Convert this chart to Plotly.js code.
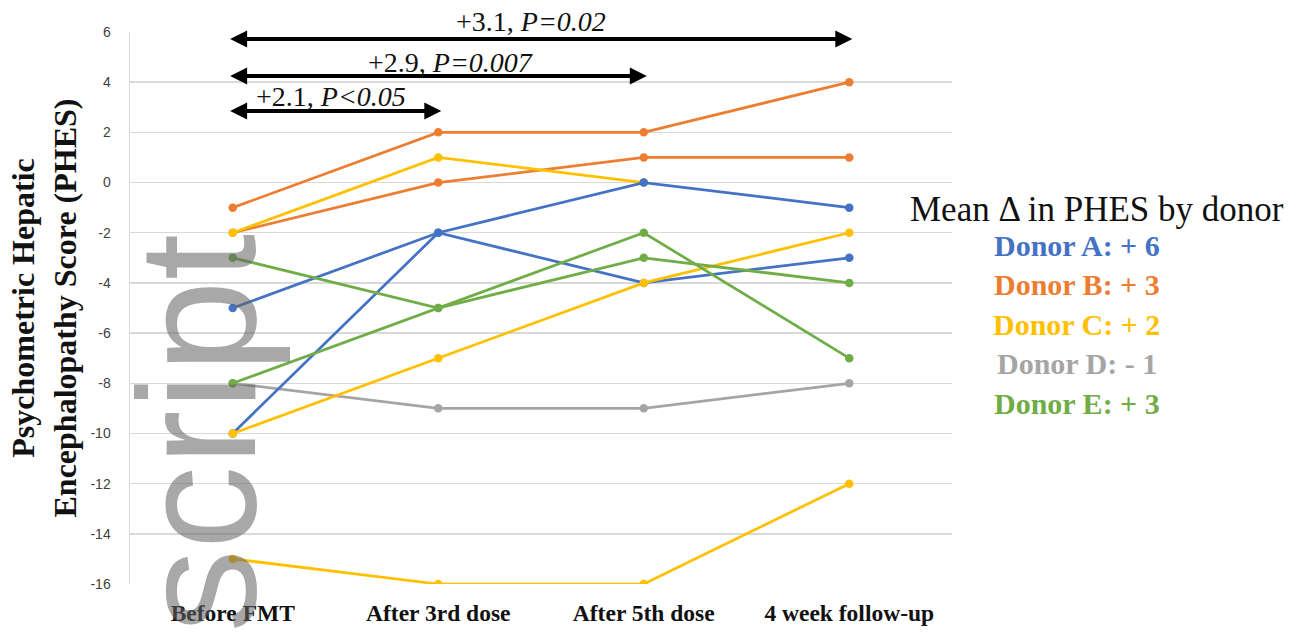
<!DOCTYPE html>
<html>
<head>
<meta charset="utf-8">
<script src="https://cdn.plot.ly/plotly-3.0.1.min.js"></script>
<style>
  html, body { margin: 0; padding: 0; background: #ffffff; }
  #chart { width: 1300px; height: 633px; }
</style>
</head>
<body>
<div id="chart"></div>
<script>
// Time points of the study
const stages = ['Before FMT', 'After 3rd dose', 'After 5th dose', '4 week follow-up'];

// Y axis ticks (written with a plain hyphen)
const yTickVals = [-16, -14, -12, -10, -8, -6, -4, -2, 0, 2, 4, 6];
const yTickText = ['-16', '-14', '-12', '-10', '-8', '-6', '-4', '-2', '0', '2', '4', '6'];

// PHES per patient, grouped by stool donor
const donorA_p1 = [-5, -2, 0, -1];
const donorA_p2 = [-10, -2, -4, -3];
const donorB_p1 = [-1, 2, 2, 4];
const donorB_p2 = [-2, 0, 1, 1];
const donorC_p1 = [-2, 1, 0, null];
const donorC_p2 = [-10, -7, -4, -2];
const donorC_p3 = [-15, -16, -16, -12];
const donorD_p1 = [-8, -9, -9, -8];
const donorE_p1 = [-3, -5, -3, -4];
const donorE_p2 = [-8, -5, -2, -7];

// Mean change by donor
const donorNames = ['Donor A', 'Donor B', 'Donor C', 'Donor D', 'Donor E'];
const donorMeanDelta = ['+ 6', '+ 3', '+ 2', '- 1', '+ 3'];

// Pairwise comparisons against baseline
const compLabels = ['+2.1, <i>P&lt;0.05</i>', '+2.9, <i>P=0.007</i>', '+3.1, <i>P=0.02</i>'];
const compToStage = [1, 2, 3];

const donorColor = {
  'Donor A': '#4472C4',
  'Donor B': '#ED7D31',
  'Donor C': '#FFC000',
  'Donor D': '#A5A5A5',
  'Donor E': '#70AD47'
};

// drawing order of the patient lines
const patients = [
  ['Donor D', donorD_p1],
  ['Donor B', donorB_p1],
  ['Donor B', donorB_p2],
  ['Donor A', donorA_p2],
  ['Donor C', donorC_p1],
  ['Donor A', donorA_p1],
  ['Donor C', donorC_p2],
  ['Donor C', donorC_p3],
  ['Donor E', donorE_p1],
  ['Donor E', donorE_p2]
];

const xIdx = stages.map((_, i) => i);

const traces = patients.map(([donor, vals]) => ({
  type: 'scatter',
  mode: 'lines+markers',
  x: xIdx,
  y: vals,
  name: donor,
  showlegend: false,
  connectgaps: false,
  line: { color: donorColor[donor], width: 2.75 },
  marker: { color: donorColor[donor], size: 8.5 },
  hoverinfo: 'x+y+name'
}));

const serif = '"Liberation Serif", "Times New Roman", serif';
const annotations = [];

// double-headed comparison arrows (data units) and their labels (paper units)
const arrowY = [2.85, 4.25, 5.72];
const labelYPaper = [0.883, 0.945, 1.019];
const labelX = [0.48, 1.06, 1.45];
compToStage.forEach((to, i) => {
  annotations.push({
    xref: 'x', yref: 'y', axref: 'x', ayref: 'y',
    x: to + 0.015, y: arrowY[i], ax: -0.02, ay: arrowY[i],
    text: '', showarrow: true,
    arrowhead: 2, startarrowhead: 2, arrowside: 'end+start',
    arrowsize: 0.85, startarrowsize: 0.85, arrowwidth: 4,
    arrowcolor: '#000000', standoff: 0, startstandoff: 0
  });
  annotations.push({
    xref: 'x', yref: 'paper', x: labelX[i], y: labelYPaper[i],
    text: compLabels[i], showarrow: false,
    font: { family: serif, size: 28, color: '#111111' },
    xanchor: 'center', yanchor: 'middle'
  });
});

// donor summary block on the right
annotations.push({
  xref: 'paper', yref: 'paper', x: 1.177, y: 0.678,
  text: 'Mean \u0394 in PHES by donor', showarrow: false,
  font: { family: serif, size: 35, color: '#111111' },
  xanchor: 'center', yanchor: 'middle'
});
donorNames.forEach((d, i) => {
  annotations.push({
    xref: 'paper', yref: 'paper', x: 1.152, y: 0.614 - i * 0.0716,
    text: d + ': ' + donorMeanDelta[i], showarrow: false,
    font: { family: serif, size: 30, color: donorColor[d], weight: 'bold' },
    xanchor: 'center', yanchor: 'middle'
  });
});

// overlay word
annotations.push({
  xref: 'paper', yref: 'paper', x: 0.0815, y: 0.274,
  text: 'script', showarrow: false, textangle: -90,
  font: { family: '"Liberation Sans", Arial, sans-serif', size: 167, color: 'rgba(100,100,100,0.56)' },
  xanchor: 'center', yanchor: 'middle'
});

const layout = {
  width: 1300, height: 633,
  margin: { l: 130, r: 348, t: 32, b: 49 },
  paper_bgcolor: '#ffffff', plot_bgcolor: '#ffffff',
  showlegend: false,
  xaxis: {
    range: [-0.5, 3.5],
    tickmode: 'array', tickvals: xIdx, ticktext: stages,
    showgrid: false, zeroline: false, showline: false,
    ticks: '', ticklabelstandoff: 12,
    tickfont: { family: serif, size: 23.5, color: '#111111', weight: 'bold' },
    fixedrange: true
  },
  yaxis: {
    range: [-16, 6],
    tickmode: 'array', tickvals: yTickVals, ticktext: yTickText,
    showgrid: true, gridcolor: '#d9d9d9', gridwidth: 1.5,
    zeroline: false, showline: true, linecolor: '#d9d9d9', linewidth: 1.5,
    ticks: '', ticklabelstandoff: 15,
    tickfont: { family: '"Liberation Sans", Arial, sans-serif', size: 14, color: '#404040' },
    title: {
      text: 'Psychometric Hepatic<br>Encephalopathy Score (PHES)',
      font: { family: serif, size: 32, color: '#111111', weight: 'bold' },
      standoff: 4
    },
    fixedrange: true
  },
  annotations: annotations
};

Plotly.newPlot('chart', traces, layout, { displayModeBar: false, staticPlot: true });
</script>
</body>
</html>
